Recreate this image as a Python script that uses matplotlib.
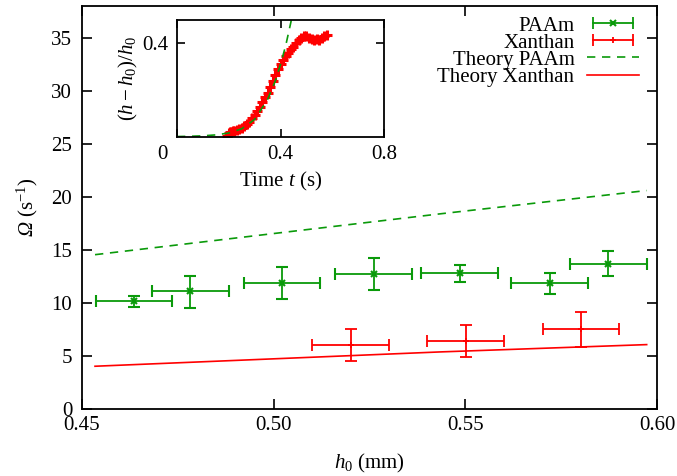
import numpy as np
import matplotlib
matplotlib.use("Agg")
import matplotlib.pyplot as plt
from matplotlib.lines import Line2D
from matplotlib.legend_handler import HandlerLine2D, HandlerTuple
import matplotlib.transforms as mtransforms

plt.rcParams["font.family"] = ["Liberation Serif", "DejaVu Serif"]
plt.rcParams["mathtext.fontset"] = "custom"
plt.rcParams["mathtext.rm"] = "Liberation Serif"
plt.rcParams["mathtext.it"] = "Liberation Serif:italic"
plt.rcParams["mathtext.bf"] = "Liberation Serif:bold"
plt.rcParams["mathtext.cal"] = "Liberation Serif:italic"  # used for the italic Omega
plt.rcParams["font.size"] = 15

# main panel data
paam_h0 = [0.4636, 0.4783, 0.5022, 0.5261, 0.5485, 0.5720, 0.5873]
paam_om = [10.2, 11.1, 11.9, 12.75, 12.8, 11.86, 13.7]
paam_h0_err = [0.010, 0.010, 0.010, 0.010, 0.010, 0.010, 0.010]
paam_om_lo = [9.65, 9.56, 10.35, 11.23, 11.98, 10.85, 12.55]
paam_om_hi = [10.69, 12.58, 13.37, 14.21, 13.62, 12.86, 14.93]

xan_h0 = [0.5201, 0.5501, 0.5802]
xan_om = [6.0, 6.45, 7.51]
xan_h0_err = [0.010, 0.010, 0.010]
xan_om_lo = [4.5, 4.93, 5.88]
xan_om_hi = [7.52, 7.92, 9.15]

theory_h0 = [0.4534, 0.5434, 0.5973]
theory_paam = [14.55, 18.4, 20.6]
theory_xan = [4.03, 5.38, 6.07]

# inset data
inset_t = [0.195, 0.20, 0.205, 0.21, 0.215, 0.22, 0.23, 0.24, 0.25, 0.26,
           0.27, 0.28, 0.29, 0.30, 0.31, 0.32, 0.33, 0.34, 0.35, 0.36,
           0.37, 0.38, 0.39, 0.40, 0.41, 0.42, 0.43, 0.44, 0.45, 0.46,
           0.47, 0.48, 0.49, 0.50, 0.51, 0.52, 0.53, 0.54, 0.55, 0.56,
           0.57, 0.58]
inset_h = [0.005, 0.015, 0.02, 0.02, 0.025, 0.025, 0.03, 0.035, 0.04, 0.045,
           0.055, 0.065, 0.08, 0.095, 0.11, 0.13, 0.15, 0.17, 0.19, 0.215,
           0.24, 0.265, 0.29, 0.31, 0.33, 0.345, 0.36, 0.375, 0.385, 0.40,
           0.415, 0.425, 0.43, 0.43, 0.425, 0.42, 0.415, 0.42, 0.415, 0.425,
           0.43, 0.435]
inset_theory_t = [0.0, 0.05, 0.1, 0.15, 0.2, 0.25, 0.3, 0.35, 0.38, 0.4, 0.42, 0.44, 0.45]
inset_theory_h = [0.002, 0.003, 0.005, 0.009, 0.017, 0.035, 0.075, 0.16, 0.24, 0.31, 0.39, 0.49, 0.55]

green = "#0a9a0a"
red = "#ff0000"

fig = plt.figure(figsize=(6.77, 4.76), dpi=100)
ax = fig.add_axes([0.1211, 0.1408, 0.8494, 0.8466])

paam_yerr = [np.array(paam_om) - np.array(paam_om_lo), np.array(paam_om_hi) - np.array(paam_om)]
xan_yerr = [np.array(xan_om) - np.array(xan_om_lo), np.array(xan_om_hi) - np.array(xan_om)]

ax.errorbar(paam_h0, paam_om, xerr=paam_h0_err, yerr=paam_yerr, fmt="x", ms=4, mew=1.5,
            color=green, ecolor=green, elinewidth=1.3, capsize=4, capthick=1.3)
ax.errorbar(xan_h0, xan_om, xerr=xan_h0_err, yerr=xan_yerr, fmt="+", ms=5, mew=1.3,
            color=red, ecolor=red, elinewidth=1.3, capsize=4, capthick=1.3)
ax.plot(theory_h0, theory_paam, ls=(0, (5, 4)), color=green, lw=1.2)
ax.plot(theory_h0, theory_xan, ls="-", color=red, lw=1.2)

ax.set_xlim(0.45, 0.60)
ax.set_ylim(0, 38)
ax.set_xticks([0.45, 0.50, 0.55, 0.60])
ax.set_xticklabels(["0.45", "0.50", "0.55", "0.60"])
ax.set_yticks(np.arange(0, 36, 5))
ax.tick_params(direction="in", top=True, right=True, length=7, width=1.2)
ax.tick_params(axis="y", pad=7)
ax.tick_params(axis="x", pad=5)
for s in ax.spines.values():
    s.set_linewidth(1.3)
ax.set_xlabel(r"$h_0$ (mm)", labelpad=12)
ax.set_ylabel(r"$\mathcal{\Omega}$ (s$^{-1}$)", labelpad=8)

# legend, gnuplot style: text left, sample right
cap_g = Line2D([], [], color=green, lw=1.3, marker="|", ms=9, mew=1.3)
mk_g = Line2D([], [], color=green, ls="none", marker="x", ms=4, mew=1.5)
cap_r = Line2D([], [], color=red, lw=1.3, marker="|", ms=9, mew=1.3)
mk_r = Line2D([], [], color=red, ls="none", marker="+", ms=5, mew=1.3)
th_g = Line2D([], [], color=green, lw=1.2, ls=(0, (5, 4)))
th_r = Line2D([], [], color=red, lw=1.2)
leg = ax.legend([(cap_g, mk_g), (cap_r, mk_r), th_g, th_r],
                ["PAAm", "Xanthan", "Theory PAAm", "Theory Xanthan"],
                handler_map={cap_g: HandlerLine2D(numpoints=2), cap_r: HandlerLine2D(numpoints=2),
                             tuple: HandlerTuple(ndivide=1)},
                loc="upper right", bbox_to_anchor=(639 / 677, 1 - 16 / 476),
                bbox_transform=fig.transFigure, frameon=False, markerfirst=False,
                borderpad=0, borderaxespad=0, handlelength=2.5, handletextpad=0.6,
                labelspacing=-0.12)

# inset
ins = fig.add_axes([177 / 677, 1 - 137 / 476, 207 / 677, 117 / 476])
ins.plot(inset_t, inset_h, ls="none", marker="+", ms=7, mew=2.2, color=red)
ins.plot(inset_theory_t, inset_theory_h, ls=(0, (5, 4)), color=green, lw=1.2)
ins.set_xlim(0, 0.8)
ins.set_ylim(0, 0.5)
ins.set_xticks([0, 0.4, 0.8])
ins.set_xticklabels(["0", "0.4", "0.8"])
ins.set_yticks([0.4])
ins.set_yticklabels(["0.4"])
ins.tick_params(direction="in", top=True, right=True, length=6, width=1.2)
ins.tick_params(axis="y", pad=6)
ins.tick_params(axis="x", pad=6)
for s in ins.spines.values():
    s.set_linewidth(1.3)
ins.set_xlabel(r"Time $t$ (s)", labelpad=4)
ins.set_ylabel(r"$(h-h_0)/h_0$", labelpad=2)
lab0 = ins.get_xticklabels()[0]
lab0.set_transform(lab0.get_transform() + mtransforms.ScaledTranslation(-15 / 100, 0, fig.dpi_scale_trans))

fig.savefig("out.png", dpi=100)
